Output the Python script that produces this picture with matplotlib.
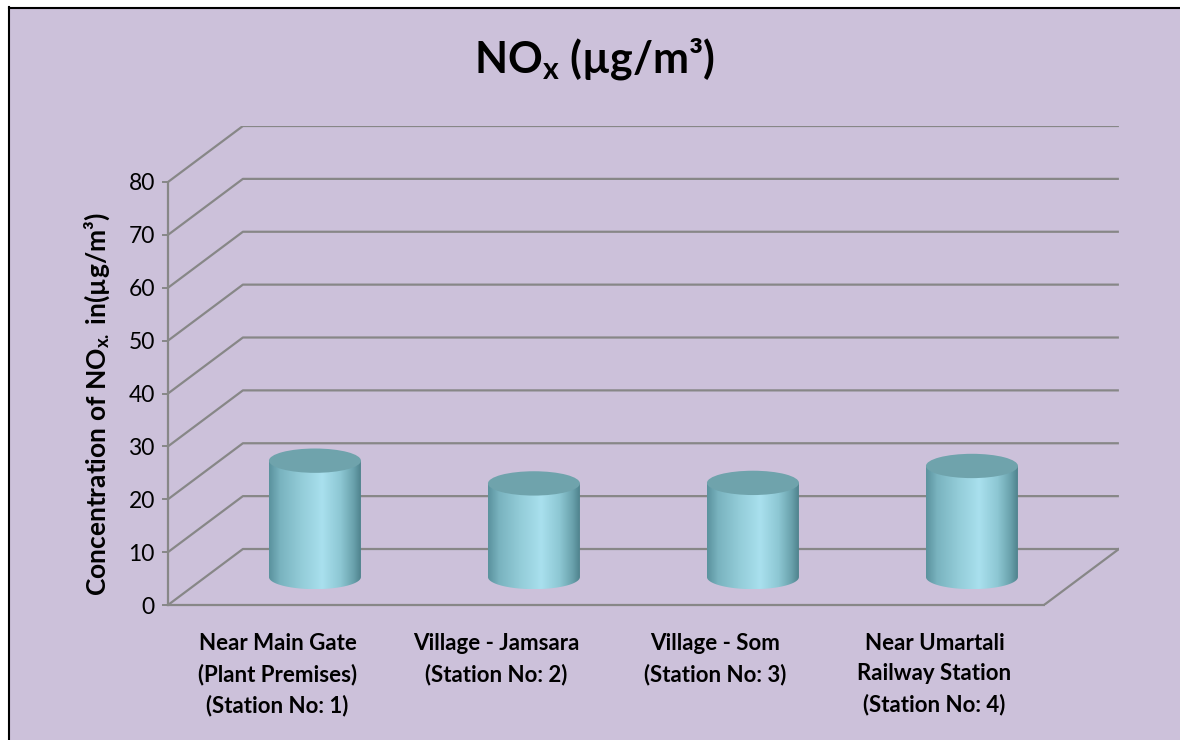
import numpy as np
import matplotlib
matplotlib.use('Agg')
import matplotlib.pyplot as plt
from matplotlib.patches import Ellipse, PathPatch, Rectangle
from matplotlib.path import Path
from matplotlib.colors import LinearSegmentedColormap
from matplotlib.lines import Line2D

# ---------------- data ----------------
categories = [
    "Near Main Gate\n(Plant Premises)\n(Station No: 1)",
    "Village - Jamsara\n(Station No: 2)",
    "Village - Som\n(Station No: 3)",
    "Near Umartali\nRailway Station\n(Station No: 4)",
]
values = [22.0, 17.7, 17.8, 21.0]
y_ticks = [0, 10, 20, 30, 40, 50, 60, 70, 80]
title_text = r"NO$_{\mathbf{x}}$ (µg/m³)"
ylabel_text = r"Concentration of NO$_{\mathbf{x.}}$ in(µg/m³)"

# ---------------- style ----------------
plt.rcParams['font.family'] = ['Lato', 'DejaVu Sans']
plt.rcParams['mathtext.fontset'] = 'custom'
plt.rcParams['mathtext.rm'] = 'Lato'
plt.rcParams['mathtext.bf'] = 'Lato:bold'
plt.rcParams['mathtext.it'] = 'Lato:italic'

BG = '#CCC1DA'
GRID = '#878787'
TOP = '#6FA3AC'

W, H = 1180, 740
fig = plt.figure(figsize=(W / 100, H / 100), dpi=100)
fig.patch.set_facecolor(BG)

# white margin + black border (left/top)
fig.patches.append(Rectangle((0, 0), 8 / W, 1, transform=fig.transFigure,
                             facecolor='white', edgecolor='none'))
fig.patches.append(Rectangle((0, 1 - 7 / H), 1, 7 / H, transform=fig.transFigure,
                             facecolor='white', edgecolor='none'))
fig.lines.append(Line2D([8.5 / W, 8.5 / W], [0, 1 - 7 / H], transform=fig.transFigure,
                        color='black', lw=1.5))
fig.lines.append(Line2D([8.5 / W, 1], [1 - 7.5 / H, 1 - 7.5 / H], transform=fig.transFigure,
                        color='black', lw=1.5))

# depth offset (data units) of the back wall
DX = 0.342
DY = 10.59
n = len(values)
xmin, xmax = -0.5, n - 0.5
ymax = y_ticks[-1]

left_px, bottom_px = 168, 605
px_per_x = 219.0
px_per_y = 5.2875
ax_w = (xmax - xmin + DX) * px_per_x
ax_h = (ymax + DY) * px_per_y
ax = fig.add_axes([left_px / W, (H - bottom_px) / H, ax_w / W, ax_h / H])
ax.set_facecolor('none')

# gridlines: front-left diagonal + back wall
for v in y_ticks:
    ax.plot([xmin, xmin + DX, xmax + DX], [v, v + DY, v + DY],
            color=GRID, lw=1.6, zorder=1, solid_capstyle='butt')
# floor right edge
ax.plot([xmax, xmax + DX], [0, DY], color=GRID, lw=1.6, zorder=1)

# cylinders
grad_cmap = LinearSegmentedColormap.from_list('cyl', [
    (0.0, '#5A929D'), (0.12, '#79B3BF'), (0.35, '#93CCD8'), (0.58, '#A9E0EE'),
    (0.78, '#8DC7D3'), (0.92, '#6AA2AD'), (1.0, '#4F838D')])
grad = grad_cmap(np.linspace(0, 1, 256))[None, :, :]

cw = 0.42
eh = 4.6
for i, v in enumerate(values):
    cx = i + DX / 2
    base = DY / 2
    top = base + v
    t = np.linspace(np.pi, 2 * np.pi, 60)
    xs = cx + (cw / 2) * np.cos(t)
    ys = base + (eh / 2) * np.sin(t)
    verts = list(zip(xs, ys)) + [(cx + cw / 2, top), (cx - cw / 2, top), (xs[0], ys[0])]
    codes = [Path.MOVETO] + [Path.LINETO] * (len(verts) - 2) + [Path.CLOSEPOLY]
    body = PathPatch(Path(verts, codes), facecolor='none', edgecolor='none',
                     transform=ax.transData)
    ax.add_patch(body)
    im = ax.imshow(grad, extent=[cx - cw / 2, cx + cw / 2, base - eh / 2, top],
                   aspect='auto', interpolation='bilinear', zorder=3)
    im.set_clip_path(body)
    ax.add_patch(Ellipse((cx, top), cw, eh, facecolor=TOP, edgecolor='none', zorder=4))

ax.set_xlim(xmin, xmax + DX)
ax.set_ylim(0, ymax + DY)

# axes styling
for s in ['top', 'right']:
    ax.spines[s].set_visible(False)
ax.spines['left'].set_bounds(0, ymax)
ax.spines['bottom'].set_bounds(xmin, xmax)
for s in ['left', 'bottom']:
    ax.spines[s].set_color(GRID)
    ax.spines[s].set_linewidth(1.6)
    ax.spines[s].set_zorder(2)

ax.set_yticks(y_ticks)
ax.set_yticklabels([str(v) for v in y_ticks])
ax.tick_params(axis='y', length=4.5, width=1.4, color=GRID, labelsize=16.5, pad=5,
               labelcolor='black')
ax.set_xticks(range(n))
ax.set_xticklabels(categories, fontweight='bold', fontsize=16, linespacing=1.55)
ax.tick_params(axis='x', length=0, pad=20, labelcolor='black')

ax.set_ylabel(ylabel_text, fontsize=19, fontweight='bold')
ax.yaxis.label.set_va('center')
ax.yaxis.set_label_coords(-0.0745, 0.42)

fig.text(595 / W, 1 - 72 / H, title_text, ha='center', va='baseline',
         fontsize=31, fontweight='bold')

fig.savefig('out.png', dpi=100, facecolor=fig.get_facecolor())
